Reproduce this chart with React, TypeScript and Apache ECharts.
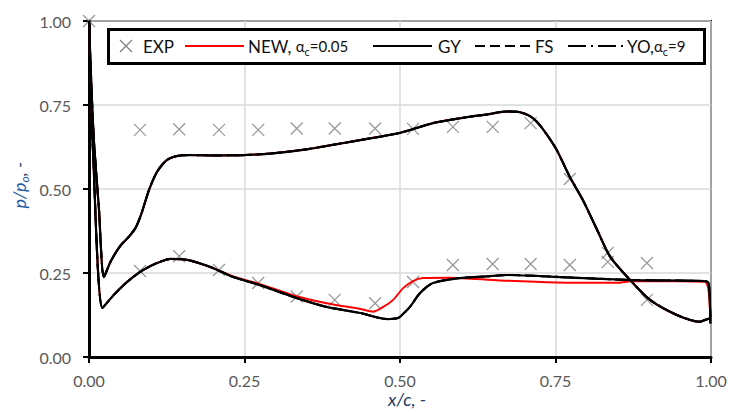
import React, { useEffect, useRef } from "react";
import * as echarts from "echarts";

// Axis ticks
const xTicks = [0, 0.25, 0.5, 0.75, 1.0];
const yTicks = [0, 0.25, 0.5, 0.75, 1.0];

// EXP measurements (x/c, p/p0)
const expX = [0.0, 0.082, 0.145, 0.209, 0.272, 0.334, 0.395, 0.46, 0.521, 0.585, 0.649, 0.71, 0.773, 0.834, 0.897,
  0.082, 0.145, 0.209, 0.272, 0.334, 0.395, 0.46, 0.521, 0.585, 0.649, 0.71, 0.773, 0.834, 0.897];
const expY = [1.0, 0.676, 0.678, 0.676, 0.676, 0.68, 0.68, 0.68, 0.679, 0.685, 0.685, 0.696, 0.53, 0.31, 0.17,
  0.256, 0.3, 0.259, 0.22, 0.18, 0.17, 0.16, 0.223, 0.274, 0.277, 0.277, 0.274, 0.283, 0.28];

// GY upper curve (high-pressure branch)
const gyUpperX = [0, 0.004, 0.008, 0.016, 0.024, 0.035, 0.05, 0.065, 0.075, 0.083, 0.09, 0.097, 0.109, 0.125, 0.141, 0.16,
  0.2, 0.25, 0.3, 0.35, 0.4, 0.45, 0.5, 0.553, 0.608, 0.64, 0.672, 0.692, 0.708, 0.72, 0.735, 0.752, 0.773, 0.794, 0.817, 0.838,
  0.87, 0.902, 0.945, 0.982, 0.99, 0.998];
const gyUpperY = [1.0, 0.8, 0.64, 0.44, 0.238, 0.285, 0.33, 0.36, 0.385, 0.42, 0.46, 0.5, 0.55, 0.586, 0.598, 0.601,
  0.6, 0.601, 0.607, 0.618, 0.634, 0.65, 0.667, 0.696, 0.714, 0.722, 0.731, 0.729, 0.718, 0.7, 0.665, 0.616, 0.536, 0.467, 0.378, 0.298,
  0.229, 0.17, 0.125, 0.105, 0.11, 0.115];

// GY lower curve
const gyLowerX = [0, 0.003, 0.006, 0.0215, 0.04, 0.061, 0.082, 0.1, 0.114, 0.13, 0.158, 0.195, 0.232, 0.275, 0.328,
  0.382, 0.436, 0.479, 0.497, 0.506, 0.516, 0.532, 0.553, 0.596, 0.64, 0.672, 0.757, 0.875, 0.99, 0.996, 0.998, 0.999];
const gyLowerY = [1.0, 0.8, 0.63, 0.146, 0.185, 0.223, 0.253, 0.272, 0.283, 0.292, 0.289, 0.268, 0.238, 0.214, 0.179,
  0.149, 0.131, 0.113, 0.116, 0.13, 0.149, 0.19, 0.22, 0.235, 0.24, 0.244, 0.238, 0.229, 0.226, 0.22, 0.18, 0.1];

// NEW (alpha_c = 0.05) lower curve; upper curve coincides with GY
const newLowerX = [0, 0.003, 0.006, 0.0215, 0.04, 0.061, 0.082, 0.1, 0.114, 0.13, 0.158, 0.195, 0.232, 0.275, 0.328,
  0.382, 0.436, 0.457, 0.473, 0.489, 0.505, 0.521, 0.537, 0.58, 0.66, 0.752, 0.849, 0.875, 0.99, 0.996, 0.998, 1.0];
const newLowerY = [1.0, 0.8, 0.63, 0.146, 0.185, 0.223, 0.253, 0.272, 0.283, 0.292, 0.289, 0.268, 0.24, 0.217, 0.184,
  0.16, 0.143, 0.135, 0.149, 0.17, 0.205, 0.226, 0.235, 0.236, 0.228, 0.222, 0.221, 0.226, 0.224, 0.2, 0.15, 0.12];

const loop = (ux: number[], uy: number[], lx: number[], ly: number[]) => {
  const pts: number[][] = [];
  for (let i = ux.length - 1; i >= 0; i--) pts.push([ux[i], uy[i]]);
  for (let i = 1; i < lx.length; i++) pts.push([lx[i], ly[i]]);
  return pts;
};

const FONT = "Lato, 'Open Sans', sans-serif";
const SMOOTH = 0.25;

export default function App() {
  const ref = useRef<HTMLDivElement>(null);
  useEffect(() => {
    if (!ref.current) return;
    const chart = echarts.init(ref.current, undefined, { renderer: "svg" });
    const gyData = loop(gyUpperX, gyUpperY, gyLowerX, gyLowerY);
    const newData = loop(gyUpperX, gyUpperY, newLowerX, newLowerY);
    const expData = expX.map((x, i) => [x, expY[i]]);
    const axisCommon = {
      type: "value" as const,
      min: xTicks[0],
      max: xTicks[xTicks.length - 1],
      interval: 0.25,
      axisLine: { show: true, onZero: false, lineStyle: { color: "#000", width: 3 } },
      axisTick: { show: true, inside: false, length: 6, lineStyle: { color: "#000", width: 2 } },
      splitLine: { show: true, lineStyle: { color: "#d9d9d9", width: 1.5 } },
      axisLabel: {
        fontFamily: FONT,
        fontSize: 16,
        color: "#595959",
        formatter: (v: number) => v.toFixed(2),
      },
    };
    const legendY = 46;
    const lineEl = (x1: number, x2: number, color: string, dash?: number[]) => ({
      type: "line",
      shape: { x1, y1: legendY, x2, y2: legendY },
      style: { stroke: color, lineWidth: 2, lineDash: dash },
      z: 101,
    });
    const txt = (x: number, text: string, rich?: any) => ({
      type: "text",
      x,
      y: legendY,
      style: {
        text,
        fontFamily: FONT,
        fontSize: 17,
        fill: "#111",
        verticalAlign: "middle",
        align: "left",
        rich,
      },
      z: 101,
    });
    const alphaRich = {
      a: { fontFamily: FONT, fontSize: 17, fill: "#111", lineHeight: 22, verticalAlign: "middle" },
      b: { fontFamily: FONT, fontSize: 15, fill: "#111", lineHeight: 22, verticalAlign: "middle" },
      c: { fontFamily: FONT, fontSize: 11, fill: "#111", lineHeight: 12, verticalAlign: "bottom" },
      d: { fontFamily: FONT, fontSize: 15, fill: "#111", lineHeight: 22, verticalAlign: "middle" },
    };
    chart.setOption({
      animation: false,
      grid: {
        left: 89,
        right: 27,
        top: 21,
        bottom: 55,
        show: true,
        borderColor: "#000",
        borderWidth: 2,
        containLabel: false,
      },
      xAxis: { ...axisCommon, axisLabel: { ...axisCommon.axisLabel, margin: 15 } },
      yAxis: {
        ...axisCommon,
        min: yTicks[0],
        max: yTicks[yTicks.length - 1],
        axisLabel: { ...axisCommon.axisLabel, margin: 18 },
      },
      series: [
        {
          name: "NEW, αc=0.05",
          type: "line",
          data: newData,
          showSymbol: false,
          smooth: SMOOTH,
          lineStyle: { color: "#ff0000", width: 2 },
        },
        {
          name: "FS",
          type: "line",
          data: gyData,
          showSymbol: false,
          smooth: SMOOTH,
          lineStyle: { color: "#000", width: 2, type: [10, 5] },
        },
        {
          name: "YO,αc=9",
          type: "line",
          data: gyData,
          showSymbol: false,
          smooth: SMOOTH,
          lineStyle: { color: "#000", width: 2, type: [18, 5, 2, 5] },
        },
        {
          name: "GY",
          type: "line",
          data: gyData,
          showSymbol: false,
          smooth: SMOOTH,
          lineStyle: { color: "#000", width: 2.2 },
        },
        {
          name: "EXP",
          type: "scatter",
          data: expData,
          symbol: "path://M0,0L10,10M10,0L0,10",
          symbolSize: 12,
          itemStyle: { color: "none", borderColor: "#7f7f7f", borderWidth: 1.3 },
        },
      ],
      graphic: [
        {
          type: "rect",
          shape: { x: 108.5, y: 29.5, width: 596, height: 34 },
          style: { fill: "#fff", stroke: "#000", lineWidth: 3 },
          z: 100,
        },
        {
          type: "line",
          shape: { x1: 120, y1: 40, x2: 132, y2: 52 },
          style: { stroke: "#7f7f7f", lineWidth: 1.3 },
          z: 101,
        },
        {
          type: "line",
          shape: { x1: 132, y1: 40, x2: 120, y2: 52 },
          style: { stroke: "#7f7f7f", lineWidth: 1.3 },
          z: 101,
        },
        txt(143, "EXP"),
        lineEl(185, 244, "#ff0000"),
        txt(248, "{a|NEW, }{b|α}{c|c}{d|=0.05}", alphaRich),
        lineEl(373, 432, "#000"),
        txt(438, "GY"),
        lineEl(475, 530, "#000", [10, 5]),
        txt(535, "FS"),
        lineEl(568, 624, "#000", [18, 5, 2, 5]),
        txt(627, "{a|YO,}{b|α}{c|c}{d|=9}", alphaRich),
        {
          type: "text",
          x: 407,
          y: 399,
          style: {
            text: "x/c, -",
            fontFamily: FONT,
            fontStyle: "italic",
            fontSize: 18,
            fill: "#203864",
            align: "center",
            verticalAlign: "middle",
          },
        },
        {
          type: "text",
          x: 19,
          y: 185,
          rotation: Math.PI / 2,
          style: {
            text: "{a|p/p}{b|o}{c|, -}",
            align: "center",
            verticalAlign: "middle",
            rich: {
              a: { fontFamily: FONT, fontStyle: "italic", fontSize: 18, fill: "#1f5aa6", lineHeight: 22, verticalAlign: "middle" },
              b: { fontFamily: FONT, fontStyle: "italic", fontSize: 12, fill: "#1f5aa6", lineHeight: 12, verticalAlign: "bottom" },
              c: { fontFamily: FONT, fontStyle: "italic", fontSize: 18, fill: "#1f3864", lineHeight: 22, verticalAlign: "middle" },
            },
          },
        },
      ],
    });
    return () => chart.dispose();
  }, []);
  return (
    <div
      ref={ref}
      style={{ position: "fixed", left: 0, top: 0, width: 738, height: 412, background: "#fff" }}
    />
  );
}
